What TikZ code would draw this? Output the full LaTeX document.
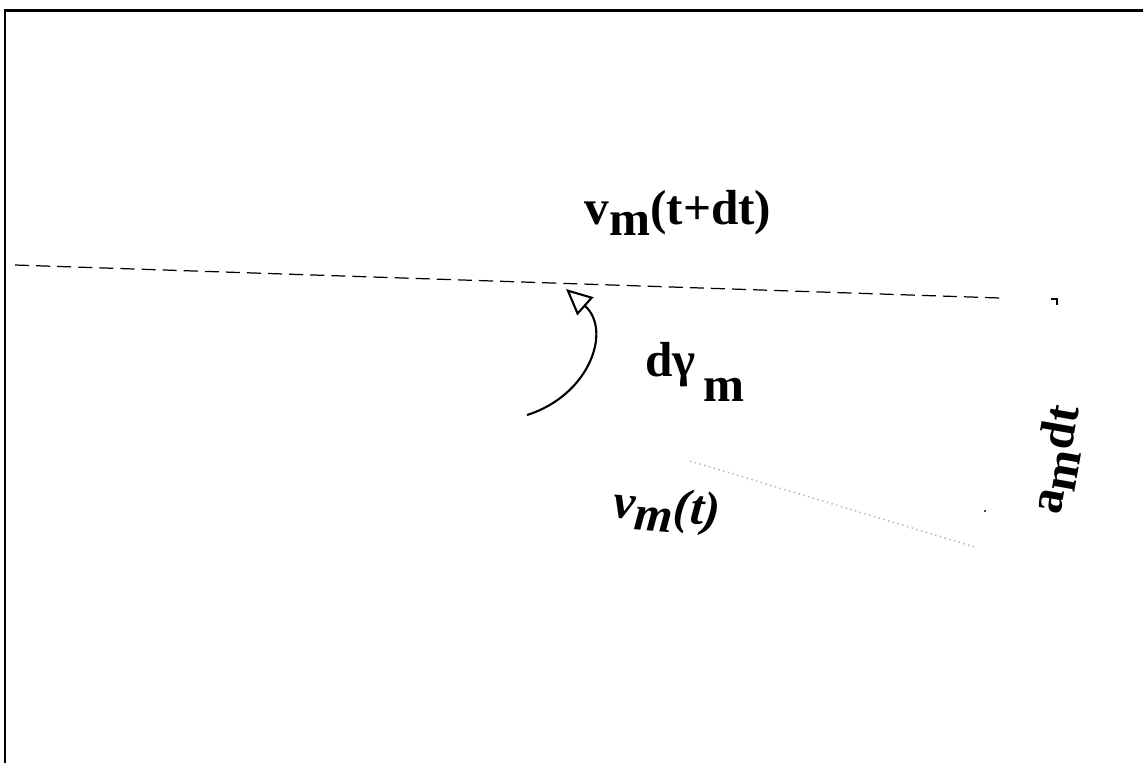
\documentclass[tikz,border=0pt]{standalone}
\usepackage{fontspec}
\setmainfont{Liberation Serif}
\usetikzlibrary{arrows.meta}

\newcommand{\lowsub}[1]{\raisebox{-0.45ex}{#1}}

\begin{document}
\begin{tikzpicture}[
    x=0.01cm, y=-0.01cm,
    font=\fontsize{14}{16}\selectfont\bfseries,
    >={Triangle[open,length=2.6mm,width=2.4mm]},
    lab/.style={inner sep=1pt},
    frame/.style={line width=0.85pt},
  ]
  \useasboundingbox (0,0) rectangle (1143,763);

  %% ---- frame (top and left edges only) ------------------------------
  \draw[frame] (5,763) -- (5,10) -- (1143,10);

  %% ---- velocity at t+dt ---------------------------------------------
  \coordinate (vnew0) at (15,265);
  \coordinate (vnew1) at (1000,298);
  \draw[dash pattern=on 4pt off 2pt, line width=0.35pt] (vnew0) -- (vnew1);
  \draw[line width=0.5pt] (1051,299) -- (1057,299) -- (1057,305);
  \node[lab] (vnewlab) at (678,213) {v\lowsub{m}(t+dt)};

  %% ---- velocity at t (barely visible) -------------------------------
  \coordinate (vold0) at (690,461);
  \coordinate (vold1) at (975,547);
  \draw[black!30, densely dotted, line width=0.4pt] (vold0) -- (vold1);
  \fill (985,511) circle (1.2);
  \node[lab, rotate=-5] (voldlab) at (667,510) {\itshape v\lowsub{m}(t)};

  %% ---- turn angle ----------------------------------------------------
  \coordinate (turn0) at (527,415);
  \coordinate (turn1) at (566,289);
  \draw[->, line width=0.6pt] (turn0) .. controls (590,395) and (612,330) .. (turn1);
  \node[lab] (dgam) at (695,372) {dγ\,\raisebox{-1.1ex}{m}};

  %% ---- acceleration side ---------------------------------------------
  \node[lab, rotate=80] (acc) at (1058,460) {a\lowsub{m}dt};
\end{tikzpicture}
\end{document}
